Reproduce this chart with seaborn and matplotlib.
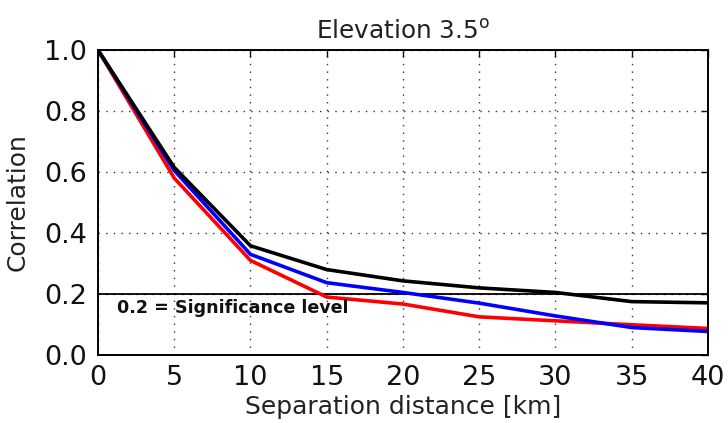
import matplotlib
matplotlib.use("Agg")
import matplotlib.pyplot as plt
import seaborn as sns
import pandas as pd

distance_km = [0, 5, 10, 15, 20, 25, 30, 35, 40]
corr_black = [1.0, 0.615, 0.358, 0.28, 0.243, 0.22, 0.205, 0.175, 0.171]
corr_blue = [1.0, 0.605, 0.33, 0.237, 0.205, 0.17, 0.128, 0.09, 0.077]
corr_red = [1.0, 0.58, 0.31, 0.19, 0.167, 0.125, 0.112, 0.099, 0.087]
series_names = ["black", "blue", "red"]
significance = 0.2
x_ticks = [0, 5, 10, 15, 20, 25, 30, 35, 40]
y_ticks = [0.0, 0.2, 0.4, 0.6, 0.8, 1.0]
y_tick_labels = ["0.0", "0.2", "0.4", "0.6", "0.8", "1.0"]

rows = []
for name, vals in zip(series_names, [corr_black, corr_blue, corr_red]):
    for x, v in zip(distance_km, vals):
        rows.append({"distance": x, "corr": v, "series": name})
df = pd.DataFrame(rows)

sns.set_style("white")
plt.rcParams["font.family"] = ["DejaVu Sans"]

fig = plt.figure(figsize=(7.28, 4.23), dpi=100)
ax = fig.add_axes([0.1346, 0.1608, 0.8379, 0.721])

sns.lineplot(data=df, x="distance", y="corr", hue="series",
             palette={"black": "#000000", "blue": "#0000ff", "red": "#ff0000"},
             hue_order=["red", "blue", "black"],
             linewidth=2.6, legend=False, ax=ax)

ax.axhline(significance, color="black", linewidth=1.3, zorder=1)
ax.text(1.25, significance - 0.017, "0.2 = Significance level", ha="left", va="top",
        fontsize=12.6, fontweight="bold", color="#111111")

ax.set_xlim(0, 40)
ax.set_ylim(0, 1.0)
ax.set_xticks(x_ticks)
ax.set_yticks(y_ticks)
ax.set_yticklabels(y_tick_labels)
ax.grid(True, color="#333333", linestyle=(0, (1, 4.5)), linewidth=1.0)
ax.tick_params(direction="in", length=5, width=1, top=True, right=True,
               labelsize=19.5, colors="#111111")
ax.tick_params(axis="x", pad=7)
ax.tick_params(axis="y", pad=8)
for s in ax.spines.values():
    s.set_color("black")
    s.set_linewidth(1.4)
ax.set_xlabel("Separation distance [km]", fontsize=18, color="#222222", labelpad=3)
ax.set_ylabel("Correlation", fontsize=18, color="#222222", labelpad=10)
ax.set_title(r"Elevation 3.5$^{\mathrm{o}}$", fontsize=17.8, color="#222222", pad=8)

fig.savefig("out.png", dpi=100)
